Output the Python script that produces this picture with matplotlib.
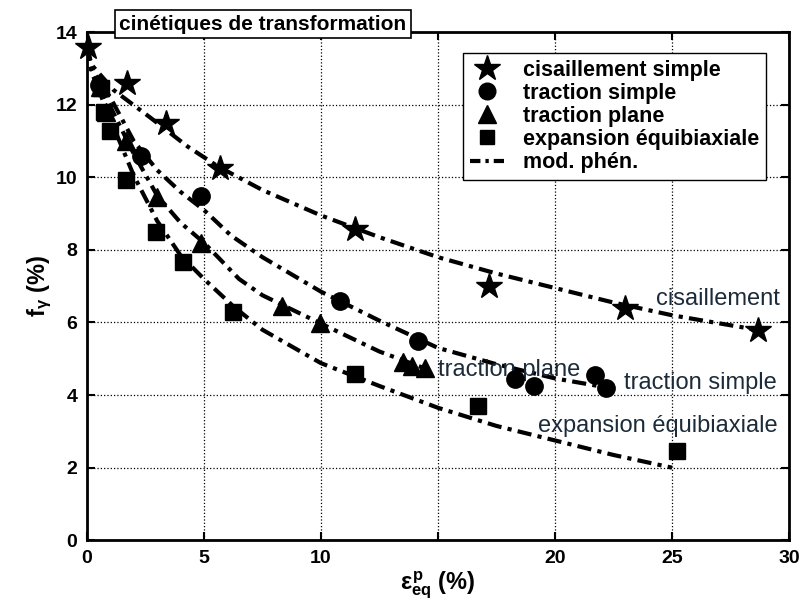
import numpy as np
import matplotlib
matplotlib.use("Agg")
import matplotlib.pyplot as plt
from matplotlib.lines import Line2D

plt.rcParams['font.family'] = ['Liberation Sans', 'DejaVu Sans']
plt.rcParams['mathtext.fontset'] = 'custom'
plt.rcParams['mathtext.rm'] = 'Liberation Sans:bold'
plt.rcParams['mathtext.it'] = 'Liberation Sans:bold'
plt.rcParams['mathtext.bf'] = 'Liberation Sans:bold'

# experimental points
cis_x = [0.05, 1.7, 3.4, 5.7, 11.45, 17.2, 23.0, 28.7]
cis_y = [13.6, 12.6, 11.5, 10.27, 8.57, 7.0, 6.4, 5.8]

ts_x = [0.5, 2.3, 4.87, 10.8, 14.15, 18.3, 19.1, 21.7, 22.2]
ts_y = [12.55, 10.6, 9.48, 6.58, 5.5, 4.45, 4.25, 4.55, 4.2]

tp_x = [0.55, 0.8, 1.67, 3.0, 4.87, 8.33, 9.96, 13.5, 13.9, 14.45]
tp_y = [12.5, 11.8, 11.0, 9.45, 8.2, 6.45, 5.98, 4.9, 4.8, 4.75]

eq_x = [0.6, 0.73, 1.0, 1.67, 2.95, 4.1, 6.25, 11.45, 16.7, 25.2]
eq_y = [12.45, 11.8, 11.27, 9.94, 8.48, 7.66, 6.28, 4.57, 3.69, 2.45]

# phenomenological model curves
mod_cis_x = [0, 0.2, 1.15, 2.7, 4.3, 5.6, 7.5, 10, 12.5, 15, 17.5, 20, 22.5, 25, 28.8]
mod_cis_y = [13.6, 13.1, 12.4, 11.65, 10.85, 10.3, 9.65, 8.95, 8.35, 7.8, 7.35, 6.95, 6.55, 6.2, 5.78]

mod_ts_x = [0, 0.2, 1, 2, 3, 4, 5, 6.15, 7.5, 10, 12.5, 15, 17.5, 20, 22.3]
mod_ts_y = [13.6, 13.0, 12.2, 11.0, 10.2, 9.6, 9.1, 8.4, 7.8, 6.85, 6.05, 5.3, 4.85, 4.46, 4.2]

mod_tp_x = [0, 0.2, 1, 2, 3, 4, 5, 6.5, 7.5, 10, 12.5, 14.5]
mod_tp_y = [13.6, 12.95, 11.95, 10.65, 9.5, 8.75, 8.2, 7.2, 6.75, 5.97, 5.2, 4.72]

mod_eq_x = [0, 0.2, 1, 2, 3, 4, 5, 6.25, 7.5, 10, 12.5, 15, 17.5, 20, 22.5, 25]
mod_eq_y = [13.6, 12.9, 11.6, 10.05, 8.8, 7.85, 7.2, 6.45, 5.8, 4.88, 4.25, 3.65, 3.15, 2.75, 2.35, 2.0]

xticks = [0, 5, 10, 15, 20, 25, 30]
xtick_labels = ['0', '5', '10', '', '20', '25', '30']
yticks = [0, 2, 4, 6, 8, 10, 12, 14]

fig = plt.figure(figsize=(8.05, 6.07), dpi=100)
ax = fig.add_axes([0.108, 0.110, 0.872, 0.837])

dash = (0, (3.4, 1.5, 1.0, 1.5))
lw = 3.0
for mx, my in [(mod_cis_x, mod_cis_y), (mod_ts_x, mod_ts_y),
               (mod_tp_x, mod_tp_y), (mod_eq_x, mod_eq_y)]:
    ax.plot(mx, my, color='black', lw=lw, linestyle=dash, zorder=3)

ax.plot(cis_x, cis_y, '*', color='black', ms=19, zorder=4, clip_on=False)
ax.plot(ts_x, ts_y, 'o', color='black', ms=12.5, zorder=4)
ax.plot(tp_x, tp_y, '^', color='black', ms=13, zorder=4)
ax.plot(eq_x, eq_y, 's', color='black', ms=11, zorder=4)

ax.set_xlim(0, 30)
ax.set_ylim(0, 14)
ax.set_xticks(xticks)
ax.set_xticklabels(xtick_labels)
ax.set_yticks(yticks)
ax.grid(True, color='black', linestyle=':', linewidth=0.9)
ax.tick_params(direction='in', top=True, right=True, length=6, width=1.5,
               labelsize=14, pad=7)
for lab in ax.get_xticklabels() + ax.get_yticklabels():
    lab.set_fontweight('bold')
for sp in ax.spines.values():
    sp.set_linewidth(2)

ax.set_xlabel(r'$\varepsilon^{p}_{eq}$ (%)', fontsize=17, fontweight='bold', labelpad=2)
ax.set_ylabel(r'f$_{\gamma}$ (%)', fontsize=17, fontweight='bold', labelpad=1)

handles = [
    Line2D([], [], marker='*', color='black', ls='none', ms=19),
    Line2D([], [], marker='o', color='black', ls='none', ms=12),
    Line2D([], [], marker='^', color='black', ls='none', ms=12.5),
    Line2D([], [], marker='s', color='black', ls='none', ms=10),
    Line2D([], [], color='black', lw=lw, linestyle=(0, (2.5, 1.2, 0.8, 1.2))),
]
labels = ['cisaillement simple', 'traction simple', 'traction plane',
          'expansion équibiaxiale', 'mod. phén.']
leg = ax.legend(handles, labels, loc='upper right', bbox_to_anchor=(0.983, 0.98),
                fancybox=False, framealpha=1, edgecolor='black',
                prop={'weight': 'bold', 'size': 15.5}, handlelength=1.6,
                labelspacing=0.1, borderpad=0.3, handletextpad=0.9)
leg.get_frame().set_linewidth(1.0)

txt_color = '#1c2b3a'
ax.text(29.6, 6.65, 'cisaillement', fontsize=17, color=txt_color, ha='right', va='center')
ax.text(29.5, 4.33, 'traction simple', fontsize=17, color=txt_color, ha='right', va='center')
ax.text(15.0, 4.7, 'traction plane', fontsize=17, color=txt_color, ha='left', va='center')
ax.text(29.5, 3.14, 'expansion équibiaxiale', fontsize=17, color=txt_color, ha='right', va='center')

ax.text(0.046, 1.016, 'cinétiques de transformation', transform=ax.transAxes,
        fontsize=15, fontweight='bold', ha='left', va='center', zorder=6,
        bbox=dict(boxstyle='square,pad=0.2', facecolor='white', edgecolor='black', lw=1.2))

fig.savefig('out.png', dpi=100)
